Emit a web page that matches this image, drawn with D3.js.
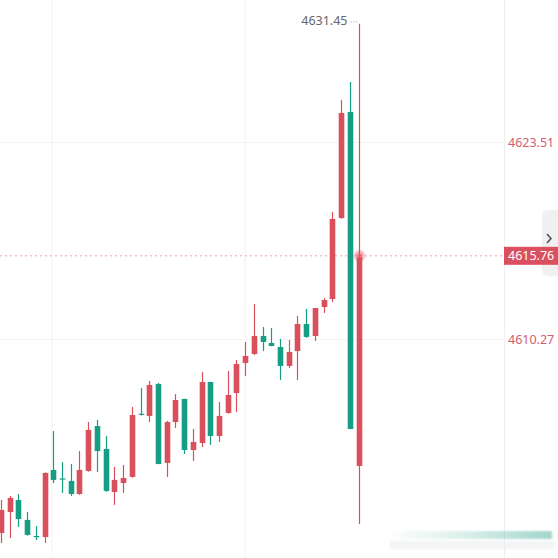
<!DOCTYPE html>
<html>
<head>
<meta charset="utf-8">
<script src="https://cdn.jsdelivr.net/npm/d3@7"></script>
<style>
  html, body { margin: 0; padding: 0; background: #fff; overflow: hidden; }
  svg { display: block; font-family: "Noto Sans", "Open Sans", sans-serif; }
</style>
</head>
<body>
<div id="container"></div>
<script>
// candle data (red = up, green = down)
const opens  = [4597.23, 4598.64, 4599.45, 4598.11, 4597.03, 4596.96, 4601.47, 4600.90, 4600.73, 4599.85,
                4601.40, 4604.42, 4602.88, 4599.99, 4600.59, 4601.00, 4605.25, 4605.10, 4607.25, 4601.94,
                4604.69, 4606.24, 4602.81, 4603.28, 4607.38, 4603.75, 4605.30, 4606.64, 4608.66, 4609.26,
                4610.47, 4610.00, 4609.73, 4608.46, 4609.46, 4611.28, 4610.47, 4612.42, 4612.96, 4618.40,
                4625.53, 4601.74];
const highs  = [4599.45, 4599.72, 4599.85, 4598.64, 4597.70, 4601.30, 4604.09, 4602.00, 4601.87, 4602.74,
                4604.69, 4604.83, 4603.75, 4601.67, 4601.80, 4605.70, 4606.98, 4607.45, 4607.31, 4604.76,
                4606.57, 4606.26, 4604.22, 4608.05, 4607.40, 4606.04, 4608.12, 4608.86, 4610.07, 4612.62,
                4611.08, 4611.01, 4610.27, 4610.20, 4611.82, 4612.29, 4612.37, 4613.03, 4618.81, 4626.33,
                4627.54, 4631.45];
const lows   = [4596.56, 4596.90, 4597.64, 4597.05, 4596.76, 4596.56, 4600.59, 4599.92, 4599.72, 4599.80,
                4601.35, 4601.33, 4600.00, 4599.12, 4599.92, 4600.95, 4605.12, 4604.69, 4601.85, 4601.00,
                4604.29, 4602.54, 4602.07, 4603.01, 4603.15, 4603.35, 4605.25, 4605.36, 4607.78, 4609.20,
                4609.46, 4609.78, 4607.52, 4608.32, 4607.52, 4610.34, 4610.14, 4612.02, 4612.76, 4618.35,
                4604.20, 4597.84];
const closes = [4598.78, 4599.59, 4598.17, 4597.10, 4596.96, 4601.27, 4600.80, 4600.86, 4599.85, 4601.47,
                4604.16, 4602.74, 4600.06, 4600.80, 4600.93, 4605.16, 4605.18, 4607.18, 4601.87, 4604.69,
                4606.17, 4602.81, 4603.35, 4607.38, 4603.75, 4605.10, 4606.51, 4608.59, 4609.13, 4610.47,
                4610.07, 4609.80, 4608.46, 4609.40, 4611.28, 4610.41, 4612.35, 4612.89, 4618.34, 4625.46,
                4604.22, 4615.76];
const priceTicks = [4610.27, 4623.51];
const lastPrice = 4615.76;
const maxPrice = 4631.45;

const candles = opens.map((o, i) => ({i, o, h: highs[i], l: lows[i], c: closes[i]}));

const W = 558, H = 558, plotRight = 504;
const upColor = "#d9505c", downColor = "#169e84";

const svg = d3.select("#container").append("svg")
  .attr("width", W)
  .attr("height", H);

const x = d3.scaleLinear().domain([0, candles.length - 1]).range([1, 358.5]);
const y = d3.scaleLinear().domain(priceTicks).range([339, 142]);

const defs = svg.append("defs");
const glow = defs.append("radialGradient").attr("id", "glow");
glow.append("stop").attr("offset", "0%").attr("stop-color", "#e0505e").attr("stop-opacity", 0.9);
glow.append("stop").attr("offset", "100%").attr("stop-color", "#e0505e").attr("stop-opacity", 0);
const fade = defs.append("linearGradient").attr("id", "fade");
fade.append("stop").attr("offset", "0%").attr("stop-color", "#8fd0c2").attr("stop-opacity", 0);
fade.append("stop").attr("offset", "100%").attr("stop-color", "#62b8a5").attr("stop-opacity", 0.6);
defs.append("filter").attr("id", "blur")
  .append("feGaussianBlur").attr("stdDeviation", 1.2);

// grid lines
const yGrid = d3.axisLeft(y).tickValues(priceTicks).tickSize(-plotRight).tickFormat("");
svg.append("g")
  .attr("class", "y grid")
  .call(yGrid)
  .call(g => g.select(".domain").remove())
  .selectAll("line").style("stroke", "#f3f3f3");

// vertical grid at candle positions
const xGridIdx = [5.85, 28];
svg.append("g")
  .selectAll("line")
  .data(xGridIdx)
  .join("line")
  .attr("x1", d => x(d)).attr("x2", d => x(d))
  .attr("y1", 0).attr("y2", H)
  .style("stroke", "#f3f3f3");

// right axis separator
svg.append("line")
  .attr("x1", plotRight + 0.5).attr("x2", plotRight + 0.5)
  .attr("y1", 0).attr("y2", H)
  .style("stroke", "#eeeeee");

// current price dotted line
svg.append("line")
  .attr("x1", 0).attr("x2", plotRight)
  .attr("y1", y(lastPrice) - 1.5).attr("y2", y(lastPrice) - 1.5)
  .style("stroke", "#eea2aa")
  .style("stroke-width", 1)
  .style("stroke-dasharray", "2,3");

// wicks
svg.append("g")
  .selectAll("line")
  .data(candles)
  .join("line")
  .attr("x1", d => Math.round(x(d.i)) + 0.5)
  .attr("x2", d => Math.round(x(d.i)) + 0.5)
  .attr("y1", d => y(d.h))
  .attr("y2", d => y(d.l))
  .style("stroke", d => d.c >= d.o ? upColor : downColor)
  .style("stroke-width", 1.2);

// bodies
const bodyW = 5.6;
svg.append("g")
  .selectAll("rect")
  .data(candles)
  .join("rect")
  .attr("x", d => Math.round(x(d.i)) + 0.5 - bodyW / 2)
  .attr("y", d => y(Math.max(d.o, d.c)))
  .attr("width", bodyW)
  .attr("height", d => Math.max(1.2, Math.abs(y(d.o) - y(d.c))))
  .attr("fill", d => d.c >= d.o ? upColor : downColor);

// glow at last price
const last = candles[candles.length - 1];
svg.append("circle")
  .attr("cx", Math.round(x(last.i)) + 0.5)
  .attr("cy", y(lastPrice) - 1.5)
  .attr("r", 7)
  .attr("fill", "url(#glow)");

// max price label
const maxX = Math.round(x(last.i)) + 0.5;
svg.append("line")
  .attr("x1", maxX - 9).attr("x2", maxX)
  .attr("y1", y(maxPrice) - 2).attr("y2", y(maxPrice) - 2)
  .style("stroke", "#999")
  .style("stroke-dasharray", "1,2");
svg.append("text")
  .attr("x", maxX - 12)
  .attr("y", y(maxPrice) + 1)
  .attr("text-anchor", "end")
  .style("fill", "#666")
  .style("font-size", "12.5px")
  .text(maxPrice.toFixed(2));

// right axis labels
svg.append("g")
  .selectAll("text")
  .data(priceTicks)
  .join("text")
  .attr("x", 508)
  .attr("y", d => y(d) + 4.5)
  .style("fill", "#d2606e")
  .style("font-size", "12.5px")
  .text(d => d.toFixed(2));

// collapse tab
svg.append("rect")
  .attr("x", 542).attr("y", 210)
  .attr("width", 24).attr("height", 66)
  .attr("rx", 6)
  .attr("fill", "#f0f0f2");
svg.append("path")
  .attr("d", "M547,234 L551,238.5 L547,243")
  .attr("fill", "none")
  .style("stroke", "#555")
  .style("stroke-width", 1.6);

// last price badge
svg.append("rect")
  .attr("x", plotRight)
  .attr("y", y(lastPrice) - 10.5)
  .attr("width", W - plotRight)
  .attr("height", 18)
  .attr("fill", "#d9505e");
svg.append("text")
  .attr("x", 508)
  .attr("y", y(lastPrice) + 3)
  .style("fill", "#fff")
  .style("font-size", "12.5px")
  .text(lastPrice.toFixed(2));

// faded scroll bar at bottom
svg.append("rect")
  .attr("x", 385).attr("y", 531)
  .attr("width", 167).attr("height", 8)
  .attr("fill", "url(#fade)")
  .attr("filter", "url(#blur)");
svg.append("rect")
  .attr("x", 390).attr("y", 541)
  .attr("width", 165).attr("height", 8)
  .attr("fill", "#eef1f1")
  .attr("opacity", 0.7)
  .attr("filter", "url(#blur)");
</script>
</body>
</html>
